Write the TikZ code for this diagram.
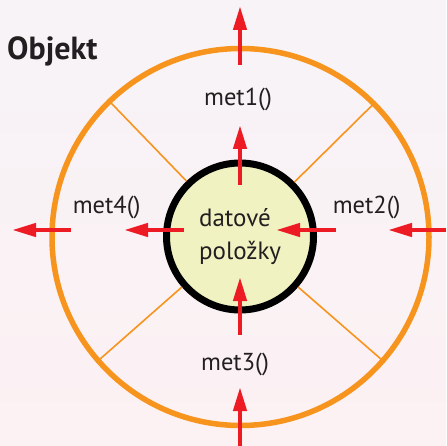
\documentclass[tikz,border=0pt]{standalone}
\usepackage{fontspec}
\setmainfont{PT Sans}
\usetikzlibrary{arrows.meta}
\definecolor{bgtop}{RGB}{247,243,247}
\definecolor{bgbot}{RGB}{252,241,243}
\definecolor{ringorange}{RGB}{247,148,29}
\definecolor{arrred}{RGB}{237,28,36}
\definecolor{datafill}{RGB}{240,242,194}
\definecolor{txt}{RGB}{35,31,32}
\begin{document}
\begin{tikzpicture}[x=1pt,y=-1pt,
  ring/.style={circle, draw=ringorange, line width=5.5pt, minimum size=377pt, inner sep=0pt},
  core/.style={circle, draw=black, fill=datafill, line width=7pt, minimum size=147pt, inner sep=0pt,
    font=\fontsize{25}{32.7}\selectfont, text=txt, align=left},
  spoke/.style={draw=ringorange, line width=1.6pt},
  msg/.style={-{Triangle[length=24pt,width=13pt]}, draw=arrred, line width=4.3pt},
  mlabel/.style={font=\fontsize{24.5}{28}\selectfont, text=txt, anchor=base, inner sep=0pt},
  titlelabel/.style={font=\bfseries\fontsize{32}{36}\selectfont, text=txt, anchor=base west, inner sep=0pt}]
\useasboundingbox (0,0) rectangle (446,446);
\fill[top color=bgtop, bottom color=bgbot] (0,0) rectangle (446,446);
\node[titlelabel] (title) at (7,60) {Objekt};
\node[ring] (obj) at (240.5,237) {};
\node[core] (data) at (240,236.5) {datové\\položky};
\foreach \a in {45,134,221.5,319}
  \draw[spoke] (data.\a) -- (obj.\a);
\node[mlabel] (m1) at (238,106) {met1()};
\node[mlabel] (m2) at (366.7,213) {met2()};
\node[mlabel] (m3) at (235,370) {met3()};
\node[mlabel] (m4) at (106.7,213) {met4()};
\coordinate (a1s) at (240,65);  \coordinate (a1e) at (240,6);
\coordinate (b1s) at (240,185); \coordinate (b1e) at (240,125);
\coordinate (b3s) at (240,335); \coordinate (b3e) at (240,277);
\coordinate (a3s) at (240,446); \coordinate (a3e) at (240,387);
\coordinate (a4s) at (71,230);  \coordinate (a4e) at (12,230);
\coordinate (b4s) at (184,230); \coordinate (b4e) at (124,230);
\coordinate (b2s) at (336,230); \coordinate (b2e) at (276,230);
\coordinate (a2s) at (446,230); \coordinate (a2e) at (388,230);
\foreach \s/\e in {a1s/a1e,b1s/b1e,b3s/b3e,a3s/a3e,a4s/a4e,b4s/b4e,b2s/b2e,a2s/a2e}
  \draw[msg] (\s) -- (\e);
\end{tikzpicture}
\end{document}
